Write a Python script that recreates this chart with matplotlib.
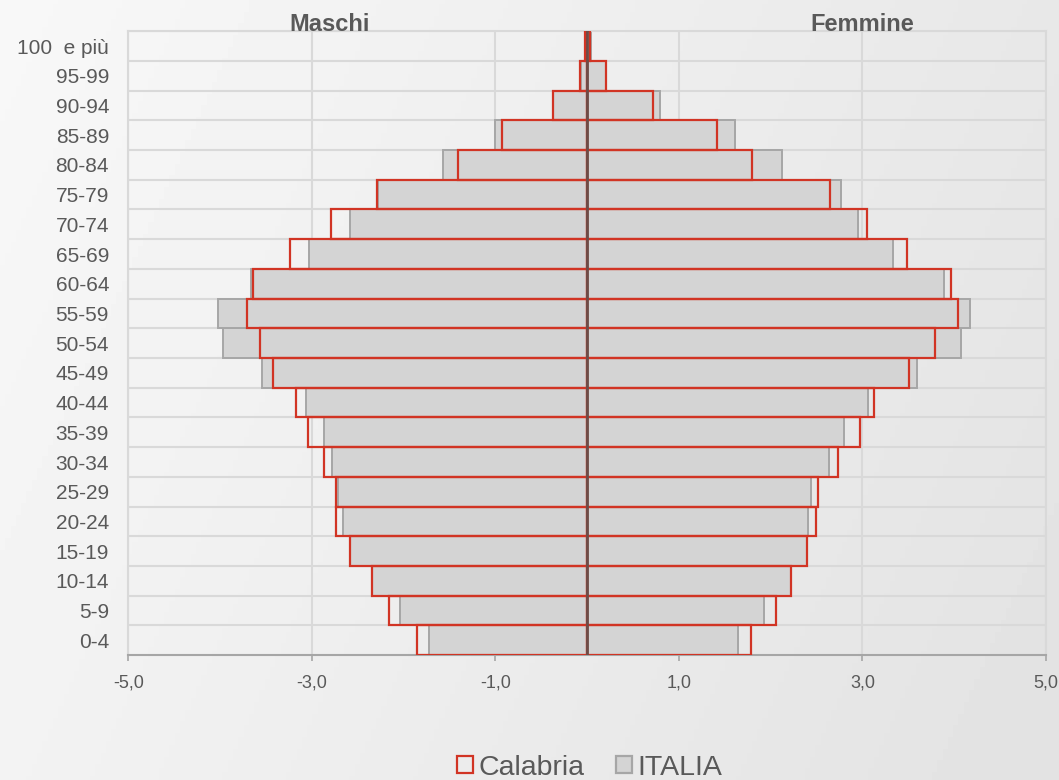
# plot.py
# Piramide delle eta: Calabria vs ITALIA (valori percentuali).

import numpy as np
import matplotlib
matplotlib.use("Agg")
import matplotlib.pyplot as plt
from matplotlib.patches import Patch
from matplotlib.ticker import FuncFormatter, FixedLocator

plt.rcParams["font.family"] = ["Liberation Sans", "DejaVu Sans"]

AGES = ["0-4", "5-9", "10-14", "15-19", "20-24", "25-29", "30-34", "35-39",
        "40-44", "45-49", "50-54", "55-59", "60-64", "65-69", "70-74",
        "75-79", "80-84", "85-89", "90-94", "95-99", "100  e più"]

# quote percentuali, dal basso (0-4) all'alto (100 e piu)
calabria_m = [1.86, 2.16, 2.35, 2.59, 2.74, 2.74, 2.87, 3.04, 3.17, 3.43, 3.57,
              3.71, 3.64, 3.24, 2.79, 2.29, 1.41, 0.93, 0.37, 0.08, 0.02]
calabria_f = [1.78, 2.06, 2.22, 2.40, 2.49, 2.51, 2.73, 2.97, 3.13, 3.51, 3.79,
              4.04, 3.97, 3.48, 3.05, 2.65, 1.80, 1.41, 0.72, 0.20, 0.03]
italia_m = [1.72, 2.04, 2.35, 2.58, 2.66, 2.72, 2.78, 2.87, 3.07, 3.54, 3.97,
            4.02, 3.66, 3.03, 2.59, 2.28, 1.57, 1.00, 0.37, 0.07, 0.02]
italia_f = [1.64, 1.93, 2.22, 2.39, 2.41, 2.44, 2.64, 2.80, 3.06, 3.59, 4.07,
            4.17, 3.89, 3.33, 2.95, 2.77, 2.12, 1.61, 0.79, 0.21, 0.04]

RED = "#d13424"
GREY_FILL = "#d4d4d4"
GREY_EDGE = "#a6a6a6"
GRID = "#d9d9d9"
TEXT = "#595959"


def main():
    fig = plt.figure(figsize=(10.59, 7.80), dpi=100)

    # sfondo sfumato
    bg = fig.add_axes([0, 0, 1, 1], zorder=-10)
    yy, xx = np.mgrid[0:1:200j, 0:1:200j]
    grad = 0.972 - 0.085 * (0.75 * xx + 0.25 * yy)
    bg.imshow(grad, cmap="gray", vmin=0, vmax=1, aspect="auto",
              extent=[0, 1, 0, 1], origin="upper")
    bg.set_axis_off()

    ax = fig.add_axes([0.1213, 0.160, 0.8664, 0.800])
    ax.set_facecolor("none")

    y = np.arange(len(AGES))
    ax.barh(y, -np.array(italia_m), height=1.0, color=GREY_FILL,
            edgecolor=GREY_EDGE, linewidth=1.4, zorder=2)
    ax.barh(y, italia_f, height=1.0, color=GREY_FILL,
            edgecolor=GREY_EDGE, linewidth=1.4, zorder=2)
    ax.barh(y, -np.array(calabria_m), height=1.0, facecolor="none",
            edgecolor=RED, linewidth=1.6, zorder=3)
    ax.barh(y, calabria_f, height=1.0, facecolor="none",
            edgecolor=RED, linewidth=1.6, zorder=3)

    ax.axvline(0, color="#6d4c47", linewidth=2.0, zorder=5)

    ax.set_xlim(-5, 5)
    ax.set_ylim(-0.5, len(AGES) - 0.5)
    ax.set_xticks([-5, -3, -1, 1, 3, 5])
    ax.xaxis.set_major_formatter(FuncFormatter(lambda v, p: f"{v:.1f}".replace(".", ",")))
    ax.set_yticks(y)
    ax.set_yticklabels(AGES)
    ax.yaxis.set_minor_locator(FixedLocator(np.arange(0.5, len(AGES), 1.0)))

    ax.grid(axis="x", which="major", color=GRID, linewidth=1.5, zorder=0)
    ax.grid(axis="y", which="minor", color=GRID, linewidth=1.5, zorder=0)
    ax.set_axisbelow(True)

    ax.tick_params(axis="y", which="both", length=0, labelsize=15,
                   labelcolor=TEXT, pad=14)
    ax.tick_params(axis="x", length=4, width=1.2, color=GREY_EDGE,
                   labelsize=13, labelcolor=TEXT, pad=10)

    for side in ("left", "right", "top"):
        ax.spines[side].set_color(GRID)
        ax.spines[side].set_linewidth(1.5)
    ax.spines["bottom"].set_color(GREY_EDGE)
    ax.spines["bottom"].set_linewidth(1.5)

    ax.text(-2.81, 1.0, "Maschi", transform=ax.get_xaxis_transform(),
            ha="center", va="baseline", fontsize=17, fontweight="bold", color=TEXT)
    ax.text(3.0, 1.0, "Femmine", transform=ax.get_xaxis_transform(),
            ha="center", va="baseline", fontsize=17, fontweight="bold", color=TEXT)

    handles = [Patch(facecolor="none", edgecolor=RED, linewidth=1.6, label="Calabria"),
               Patch(facecolor=GREY_FILL, edgecolor=GREY_EDGE, linewidth=1.6, label="ITALIA")]
    leg = fig.legend(handles=handles, loc="center", bbox_to_anchor=(0.557, 0.016),
                     ncol=2, frameon=False, fontsize=20.5, handlelength=0.56,
                     handleheight=0.56, handletextpad=0.2, columnspacing=1.1)
    for t in leg.get_texts():
        t.set_color(TEXT)

    fig.savefig("out.png", dpi=100)


if __name__ == "__main__":
    main()
